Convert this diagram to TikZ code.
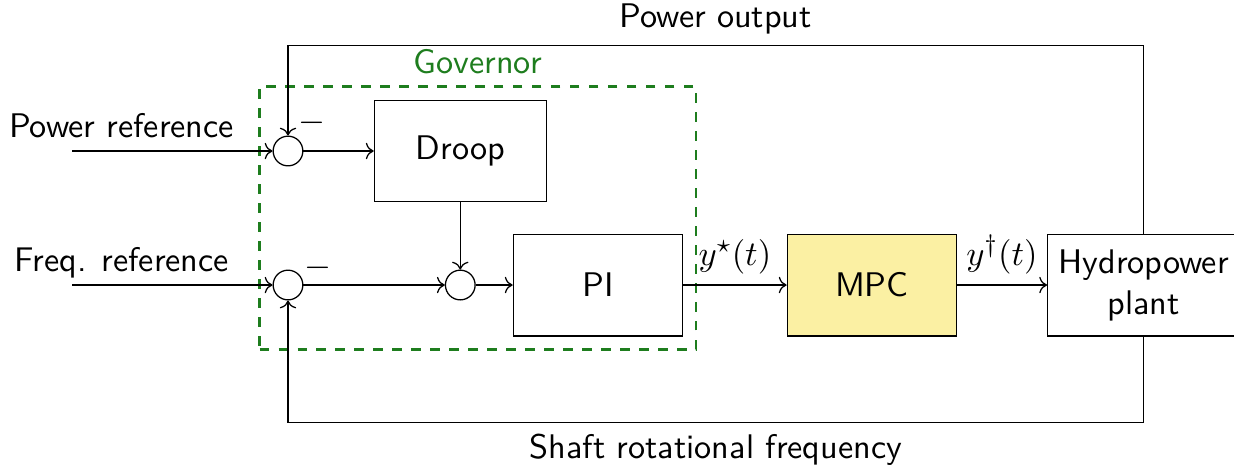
\documentclass[tikz,border=0pt]{standalone}
\usepackage{tikz}
\usetikzlibrary{arrows.meta, positioning, fit}
\definecolor{mpcyellow}{RGB}{251, 240, 163}
\definecolor{govgreen}{RGB}{30, 125, 30}
\tikzset{
    block/.style={rectangle, draw, minimum width=1.88cm, minimum height=1.13cm, align=center},
    sumnode/.style={circle, draw, minimum size=0.33cm, inner sep=0pt},
    arrow/.style={->},
    govbox/.style={rectangle, draw=govgreen, thick, dashed, inner sep=0.144cm}
}

\begin{document}
\begin{tikzpicture}[font=\sffamily\fontsize{10.8pt}{13pt}\selectfont, node distance=0.78cm and 0.78cm]
            \useasboundingbox (0,0) rectangle (13.711,-5.156);
            % governor
            \node (sum1) [sumnode] at (3.2,-1.678) {};
            \node (droop) [block, right=of sum1, minimum width=1.91cm] {Droop};
            \node (sum2) [sumnode] at (3.2,-3.167) {};
            \node (sum3) [sumnode] at (sum2 -| droop) {};
            \node (pi) [block, right=0.41cm of sum3] {PI};
            \node (gov) [govbox, fit=(sum1)(droop)(sum2)(pi)] {};
            \node (govtxt) [above=0cm of gov, text=govgreen] {Governor};
            \node (minus1) at (sum1) [xshift=0.27cm, yshift=0.31cm] {$-$};
            \node (minus2) at (sum2) [xshift=0.33cm, yshift=0.19cm] {$-$};
            
            % controller and plant
            \node (mpc) [block, right=1.15cm of pi, fill=mpcyellow] {MPC};
            \node (plant) [block, right=1cm of mpc, minimum width=2.13cm] {Hydropower\\plant};
            
            % inputs
            \coordinate (pref) at (0.8,-1.678);
            \coordinate (fref) at (0.8,-3.167);
            \node (preftxt) [anchor=base] at (1.35,-1.53) {Power reference};
            \node (freftxt) [anchor=base] at (1.35,-3.02) {Freq. reference};
            
            \draw [arrow] (pref) -- (sum1);
            \draw [arrow] (fref) -- (sum2);
            \draw [arrow] (sum1) -- (droop);
            \draw [arrow] (droop) -- (sum3);
            \draw [arrow] (sum2) -- (sum3);
            \draw [arrow] (sum3) -- (pi);
            \draw [arrow] (pi) -- node[above] (ystar) {$y^\star(t)$} (mpc);
            \draw [arrow] (mpc) -- node[above] (ydag) {$y^\dagger(t)$} (plant);
            
            % feedback
            \draw [arrow] (plant.north) -- ++(0,2.09) -| node[pos=0.25, above] (powtxt) {Power output} (sum1);
            \draw [arrow] (plant.south) -- ++(0,-0.955) -| node[pos=0.25, below] (shafttxt) {Shaft rotational frequency} (sum2);
        \end{tikzpicture}
\end{document}
